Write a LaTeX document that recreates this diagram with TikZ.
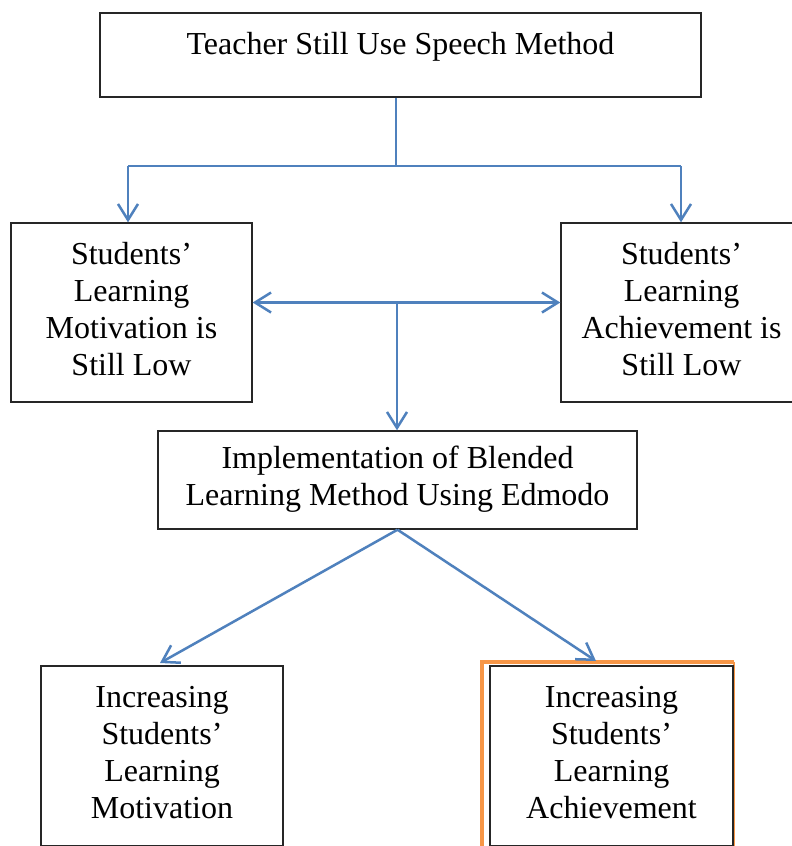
\documentclass[tikz,border=0pt]{standalone}
\usepackage{fontspec}
\setmainfont{Liberation Serif}
\usetikzlibrary{arrows.meta,calc}
\definecolor{lineblue}{HTML}{4F81BD}
\definecolor{frameorange}{HTML}{F79646}
\tikzset{
  box/.style={draw=black!85, line width=1.4pt, align=center, inner sep=0pt,
    font=\fontsize{32}{37}\selectfont},
  conn/.style={draw=lineblue, line width=2.5pt},
  arr/.style={conn, -{Straight Barb[length=16pt,width=20pt]}},
  darr/.style={conn, {Straight Barb[length=16pt,width=20pt]}-{Straight Barb[length=16pt,width=20pt]}},
  hilite/.style={draw=frameorange, line width=4.5pt}
}
\begin{document}
\begin{tikzpicture}[x=1pt,y=-1pt]
\useasboundingbox (0,0) rectangle (792,846);
\clip (0,0) rectangle (792,846);
\fill[white] (0,0) rectangle (792,846);

% boxes
\node[box, minimum width=601pt, minimum height=84pt, text height=26pt, text depth=28pt]
  (top) at (400.5,55) {Teacher Still Use Speech Method};
\node[box, minimum width=241pt, minimum height=179pt]
  (lm) at (131.5,312.5) {\strut Students’\\\strut Learning\\\strut Motivation is\\\strut Still Low};
\node[box, minimum width=241pt, minimum height=179pt]
  (rm) at (681.5,312.5) {\strut Students’\\\strut Learning\\\strut Achievement is\\\strut Still Low};
\node[box, minimum width=479pt, minimum height=98pt]
  (mid) at (397.5,480) {\strut Implementation of Blended\\\strut Learning Method Using Edmodo};
\node[box, minimum width=242pt, minimum height=180pt]
  (bl) at (162,756) {\strut Increasing\\\strut Students’\\\strut Learning\\\strut Motivation};

% orange highlight frame behind the last box
\draw[hilite] (734,662) -- (482,662) -- (482,850);
\draw[draw=frameorange, line width=1.5pt] (734,662) -- (734,850);
\node[box, fill=white, minimum width=243pt, minimum height=180pt]
  (br) at (611.5,756) {\strut Increasing\\\strut Students’\\\strut Learning\\\strut Achievement};

% junction coordinates
\coordinate (j) at (396,166);
\coordinate (jl) at (128,166);
\coordinate (jr) at (681,166);
\coordinate (h) at (397,302.5);
\coordinate (tl) at (160,663);
\coordinate (tr) at (596,661);

% connectors
\draw[conn] (top.south -| j) -- (j);
\draw[conn] (jl) -- (jr);
\draw[arr] (jl) -- (jl |- lm.north);
\draw[arr] (jr) -- (jr |- rm.north);
\draw[darr] (h -| lm.east) -- (h -| rm.west);
\draw[arr] (h) -- (h |- mid.north);
\draw[arr] (mid.south) -- (tl);
\draw[arr] (mid.south) -- (tr);
\end{tikzpicture}
\end{document}
